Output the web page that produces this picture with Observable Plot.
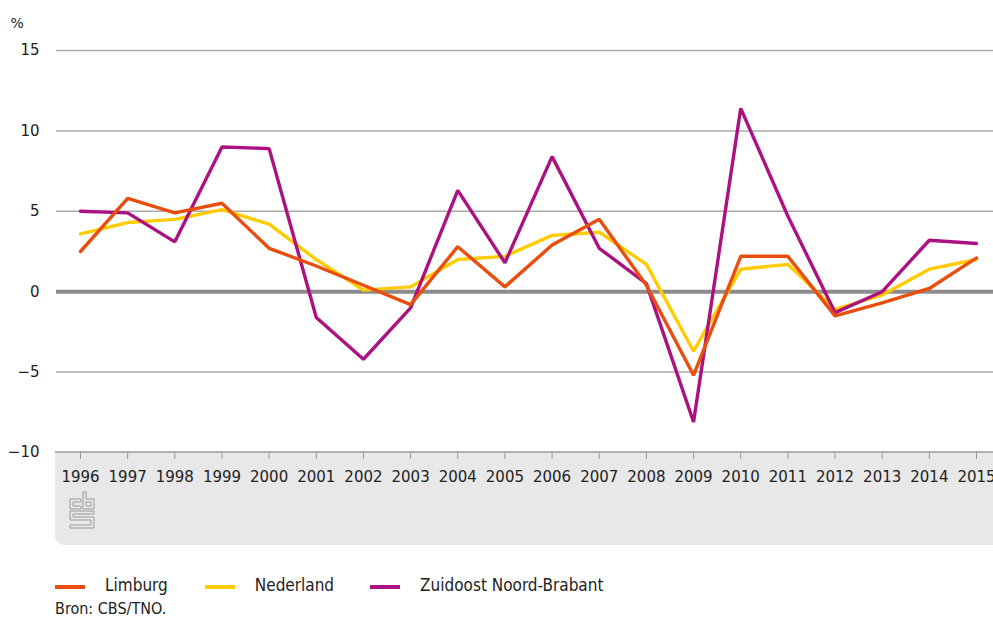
<!DOCTYPE html>
<html>
<head>
<meta charset="utf-8">
<script src="https://cdn.jsdelivr.net/npm/d3@7"></script>
<script src="https://cdn.jsdelivr.net/npm/@observablehq/plot@0.6"></script>
<style>
  html, body { margin: 0; padding: 0; background: #fff; }
  #chart svg { display: block; }
  .legend { display: flex; align-items: center; margin-left: 55px; margin-top: 26px; height: 18px;
    font-family: "DejaVu Sans Condensed", sans-serif; font-size: 17px; color: #222; }
  .legend .item { display: flex; align-items: center; }
  .legend .sw { width: 30px; height: 4px; margin-right: 20px; margin-top: 3px; }
  .source { margin-left: 55px; margin-top: 5px; font-family: "DejaVu Sans Condensed", sans-serif; font-size: 16px; color: #222; }
</style>
</head>
<body>
<div id="chart"></div>
<div class="legend" id="legend"></div>
<div class="source">Bron: CBS/TNO.</div>
<script>
const years = [1996, 1997, 1998, 1999, 2000, 2001, 2002, 2003, 2004, 2005, 2006, 2007, 2008, 2009, 2010, 2011, 2012, 2013, 2014, 2015];
const limburg = [2.5, 5.8, 4.9, 5.5, 2.7, 1.6, 0.4, -0.8, 2.8, 0.3, 2.9, 4.5, 0.4, -5.2, 2.2, 2.2, -1.5, -0.7, 0.2, 2.1];
const nederland = [3.6, 4.3, 4.5, 5.1, 4.2, 2.0, 0.1, 0.3, 2.0, 2.2, 3.5, 3.7, 1.7, -3.7, 1.4, 1.7, -1.1, -0.2, 1.4, 2.0];
const zuidoost = [5.0, 4.9, 3.1, 9.0, 8.9, -1.6, -4.2, -1.0, 6.3, 1.8, 8.4, 2.7, 0.5, -8.1, 11.4, 4.7, -1.3, 0.0, 3.2, 3.0];
const seriesNames = ["Limburg", "Nederland", "Zuidoost Noord-Brabant"];
const seriesColors = ["#e94e0f", "#ffcc00", "#ac1181"];
const yTicks = [15, 10, 5, 0, -5, -10];
const gridValues = [15, 10, 5, -5];

const toRows = (vals, name) => vals.map((v, i) => ({year: years[i], value: v, series: name}));
const rowsL = toRows(limburg, seriesNames[0]);
const rowsN = toRows(nederland, seriesNames[1]);
const rowsZ = toRows(zuidoost, seriesNames[2]);

function band(index, scales, values, dims) {
  const ns = "http://www.w3.org/2000/svg";
  const g = document.createElementNS(ns, "g");
  const y0 = scales.y(-10);
  const x0 = dims.marginLeft - 1, x1 = dims.width, y1 = dims.height - 5, r = 9;
  const p = document.createElementNS(ns, "path");
  p.setAttribute("d", `M${x0},${y0}H${x1}V${y1}H${x0 + r}A${r},${r} 0 0 1 ${x0},${y1 - r}Z`);
  p.setAttribute("fill", "#e8e8e8");
  g.appendChild(p);
  const top = document.createElementNS(ns, "path");
  top.setAttribute("d", `M${x0},${y0}H${x1}`);
  top.setAttribute("stroke", "#9a9a9a");
  top.setAttribute("stroke-width", "1.5");
  g.appendChild(top);
  // CBS logo
  const lx = x0 + 15, ly = y0 + 40;
  const logo = document.createElementNS(ns, "path");
  logo.setAttribute("d",
    `M${lx+11},${ly+7}H${lx}V${ly+17}H${lx+11}V${ly+14}H${lx+3}V${ly+10}H${lx+11}Z` +
    `M${lx+13},${ly}H${lx+16}V${ly+7}H${lx+24}V${ly+17}H${lx+13}Z M${lx+16},${ly+10}H${lx+21}V${ly+14}H${lx+16}Z` +
    `M${lx+24},${ly+19}H${lx}V${ly+28}H${lx+21}V${ly+33}H${lx}V${ly+36}H${lx+24}V${ly+25}H${lx+3}V${ly+22}H${lx+24}Z`);
  logo.setAttribute("fill", "none");
  logo.setAttribute("stroke", "#9a9a9a");
  logo.setAttribute("stroke-width", "1");
  g.appendChild(logo);
  return g;
}

const plot = Plot.plot({
  width: 993,
  height: 550,
  marginTop: 50,
  marginBottom: 98,
  marginLeft: 56,
  marginRight: 0,
  style: {fontFamily: "DejaVu Sans, sans-serif", fontSize: "15px", color: "#222", background: "#fff"},
  x: {type: "linear", domain: [1996, 2015], range: [80, 976], label: null},
  y: {domain: [-10, 15], label: null},
  marks: [
    band,
    Plot.ruleY(gridValues, {stroke: "#aaaaaa", strokeWidth: 1.5}),
    Plot.axisY({ticks: yTicks, tickSize: 0, tickPadding: 17, fontSize: 15, label: null}),
    Plot.axisX({ticks: years, tickFormat: d => String(d), tickSize: 7, tickPadding: 12, stroke: "#9a9a9a", fontSize: 15, label: null}),
    Plot.ruleY([0], {stroke: "#8c8c8c", strokeWidth: 4}),
    Plot.text(["%"], {frameAnchor: "top-left", dx: -46, dy: -32, textAnchor: "start", fontSize: 14}),
    Plot.line(rowsN, {x: "year", y: "value", stroke: seriesColors[1], strokeWidth: 3.4, strokeLinejoin: "miter"}),
    Plot.line(rowsZ, {x: "year", y: "value", stroke: seriesColors[2], strokeWidth: 3.4, strokeLinejoin: "miter"}),
    Plot.line(rowsL, {x: "year", y: "value", stroke: seriesColors[0], strokeWidth: 3.4, strokeLinejoin: "miter"})
  ]
});
document.getElementById("chart").appendChild(plot);

const legend = document.getElementById("legend");
seriesNames.forEach((n, i) => {
  const item = document.createElement("div");
  item.className = "item";
  item.style.marginRight = ["37px", "36px", "0px"][i];
  const sw = document.createElement("div");
  sw.className = "sw";
  sw.style.background = seriesColors[i];
  const t = document.createElement("span");
  t.textContent = n;
  item.appendChild(sw);
  item.appendChild(t);
  legend.appendChild(item);
});
</script>
</body>
</html>
